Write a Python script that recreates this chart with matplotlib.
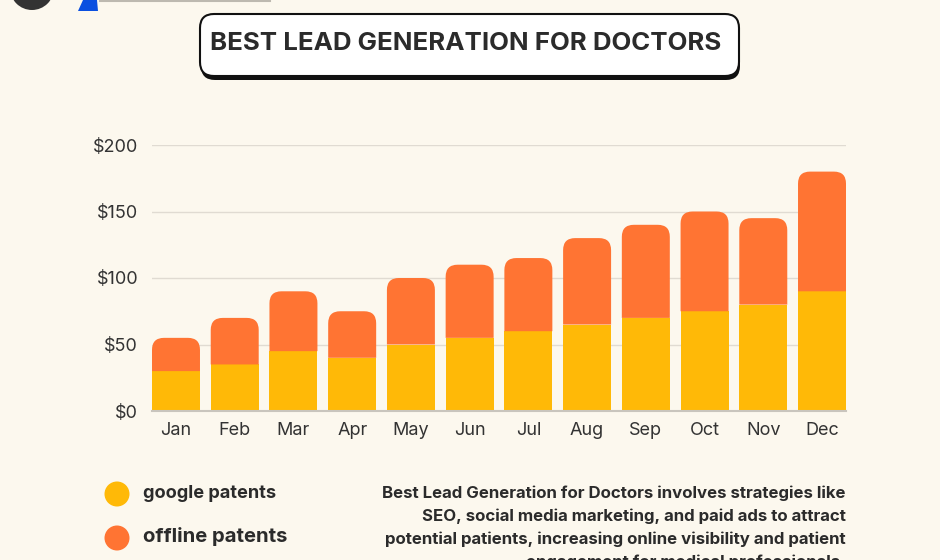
import matplotlib
matplotlib.use("Agg")
import matplotlib.pyplot as plt
from matplotlib.patches import FancyBboxPatch, Circle, Polygon, PathPatch
from matplotlib.path import Path

# —— 数据 —— #
months = ['Jan', 'Feb', 'Mar', 'Apr', 'May', 'Jun', 'Jul', 'Aug', 'Sep', 'Oct', 'Nov', 'Dec']
google = [30, 35, 45, 40, 50, 55, 60, 65, 70, 75, 80, 90]
offline = [25, 35, 45, 35, 50, 55, 55, 65, 70, 75, 65, 90]
y_ticks = [0, 50, 100, 150, 200]
y_labels = ['$0', '$50', '$100', '$150', '$200']
series_names = ['google patents', 'offline patents']
title = 'BEST LEAD GENERATION FOR DOCTORS'
desc_lines = [
    'Best Lead Generation for Doctors involves strategies like',
    'SEO, social media marketing, and paid ads to attract',
    'potential patients, increasing online visibility and patient',
    'engagement for medical professionals.',
]

BG = '#FCF8EE'
YELLOW = '#FFB907'
ORANGE = '#FF7433'
TEXT = '#2B2B2B'
W, H = 940, 560

plt.rcParams['font.family'] = ['Inter', 'DejaVu Sans']

fig = plt.figure(figsize=(9.4, 5.6), dpi=100, facecolor=BG)

# overlay in pixel coords for decorations
deco = fig.add_axes([0, 0, 1, 1], zorder=0)
deco.set_xlim(0, W)
deco.set_ylim(H, 0)
deco.axis('off')
deco.patch.set_alpha(0)

# main chart
bw = 0.817
ax = fig.add_axes([152 / W, 1 - 411 / H, (846 - 152) / W, (411 - 145) / H], zorder=1)
ax.set_facecolor('none')
x = list(range(len(months)))
ax.set_xlim(-bw / 2, len(months) - 1 + bw / 2)
ax.set_ylim(0, 200)

ax.bar(x, google, width=bw, color=YELLOW, zorder=3)

# rounded-top orange segments
p0 = ax.transData.transform((0, 0))
p1 = ax.transData.transform((1, 1))
r_px = 12
rx = r_px / (p1[0] - p0[0])
ry = r_px / (p1[1] - p0[1])
tops = ax.bar(x, offline, bottom=google, width=bw, color=ORANGE, zorder=3)
for rect in tops.patches:
    rect.set_visible(False)
    x0, y0 = rect.get_x(), rect.get_y()
    w, h = rect.get_width(), rect.get_height()
    y1 = y0 + h
    verts = [(x0, y0), (x0 + w, y0), (x0 + w, y1 - ry), (x0 + w, y1), (x0 + w - rx, y1),
             (x0 + rx, y1), (x0, y1), (x0, y1 - ry), (x0, y0)]
    codes = [Path.MOVETO, Path.LINETO, Path.LINETO, Path.CURVE3, Path.CURVE3,
             Path.LINETO, Path.CURVE3, Path.CURVE3, Path.CLOSEPOLY]
    ax.add_patch(PathPatch(Path(verts, codes), facecolor=ORANGE, edgecolor='none', zorder=3))

ax.set_yticks(y_ticks)
ax.set_yticklabels(y_labels)
ax.set_xticks(x)
ax.set_xticklabels(months)
ax.tick_params(axis='both', length=0, labelsize=13, labelcolor='#333333')
ax.tick_params(axis='y', pad=10)
ax.tick_params(axis='x', pad=8)
ax.grid(axis='y', color='#E0DBD2', linewidth=1, zorder=0)
for s in ['top', 'right', 'left']:
    ax.spines[s].set_visible(False)
ax.spines['bottom'].set_color('#C9C5BD')
ax.spines['bottom'].set_linewidth(1.5)
ax.spines['bottom'].set_zorder(4)

# title box with shadow
deco.add_patch(FancyBboxPatch((201, 19), 539, 61, boxstyle='round,pad=0,rounding_size=14',
                              facecolor='#111111', edgecolor='none'))
deco.add_patch(FancyBboxPatch((200, 14), 539, 62, boxstyle='round,pad=0,rounding_size=14',
                              facecolor='white', edgecolor='#111111', linewidth=1.5))
deco.text(466, 43, title, ha='center', va='center', fontsize=18.6, fontweight='bold', color=TEXT)

# logo fragments top-left
deco.add_patch(Circle((32, -12), 22, facecolor='#333333', edgecolor='none'))
deco.add_patch(Polygon([(78, 11), (98, 11), (97, 0), (83, 0)], closed=True,
                       facecolor='#0A4FE0', edgecolor='none'))
deco.plot([100, 270], [0.5, 0.5], color='#BDB9B0', linewidth=1.5)

# legend
colors = [YELLOW, ORANGE]
legend_y = [494, 538]
legend_fs = [13.1, 14.6]
for name, c, ly, fs in zip(series_names, colors, legend_y, legend_fs):
    deco.add_patch(Circle((117, ly), 12.5, facecolor=c, edgecolor='none'))
    deco.text(143, ly - 1, name, ha='left', va='center', fontsize=fs, fontweight='bold', color=TEXT)

# description
for i, line in enumerate(desc_lines):
    deco.text(846, 493 + 23 * i, line, ha='right', va='center', fontsize=12.1,
              fontweight='bold', color=TEXT)

fig.savefig('out.png', dpi=100, facecolor=BG)
